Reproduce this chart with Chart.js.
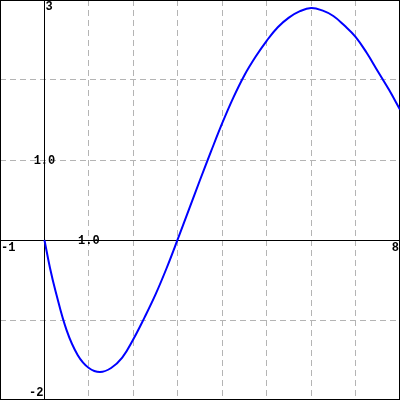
<!DOCTYPE html>
<html>
<head>
<meta charset="utf-8">
<script src="https://cdn.jsdelivr.net/npm/chart.js@4/dist/chart.umd.min.js"></script>
<style>
html,body{margin:0;padding:0;background:#fff;}
#wrap{width:400px;height:400px;position:relative;}
</style>
</head>
<body>
<div id="wrap"><canvas id="c"></canvas></div>
<script>
// Data
const xValues = [0, 0.125, 0.25, 0.5, 0.75, 1.0, 1.25, 1.5, 1.75, 2.0, 2.25, 2.5, 2.75, 3.0, 3.25, 3.5, 3.75, 4.0, 4.25, 4.5, 4.75, 5.0, 5.25, 5.5, 5.75, 6.0, 6.25, 6.5, 6.75, 7.0, 7.25, 7.5, 7.75, 8.0];
const yValues = [0, -0.35, -0.64, -1.13, -1.44, -1.60, -1.65, -1.60, -1.47, -1.24, -0.97, -0.68, -0.35, 0.01, 0.38, 0.75, 1.11, 1.46, 1.78, 2.06, 2.29, 2.49, 2.66, 2.78, 2.86, 2.90, 2.87, 2.80, 2.68, 2.54, 2.34, 2.11, 1.88, 1.63];
const xRange = [-1, 8];
const yRange = [-2, 3];
const xTickValues = [-1, 1, 8];
const xTickLabels = ['-1', '1.0', '8'];
const yTickValues = [-2, 1, 3];
const yTickLabels = ['-2', '1.0', '3'];

const points = xValues.map((x, i) => ({x: x, y: yValues[i]}));

const axesPlugin = {
  id: 'axesPlugin',
  beforeDatasetsDraw(chart) {
    const {ctx, scales: {x, y}} = chart;
    ctx.save();
    ctx.strokeStyle = '#000';
    ctx.lineWidth = 1;
    const x0 = Math.round(x.getPixelForValue(0)) + 0.5;
    const y0 = Math.round(y.getPixelForValue(0)) + 0.5;
    ctx.beginPath();
    ctx.moveTo(x0, y.top); ctx.lineTo(x0, y.bottom);
    ctx.moveTo(x.left, y0); ctx.lineTo(x.right, y0);
    ctx.stroke();
    ctx.strokeRect(0.5, 0.5, chart.width - 1, chart.height - 1);
    ctx.restore();
  },
  afterDraw(chart) {
    const {ctx, scales: {x, y}} = chart;
    ctx.save();
    ctx.fillStyle = '#000';
    ctx.font = 'bold 12px "Liberation Mono", "DejaVu Sans Mono", monospace';
    const x0 = x.getPixelForValue(0);
    const y0 = y.getPixelForValue(0);
    xTickValues.forEach((v, i) => {
      const px = x.getPixelForValue(v);
      const t = xTickLabels[i];
      if (v === xRange[0]) {
        ctx.textAlign = 'left'; ctx.textBaseline = 'top';
        ctx.fillText(t, px + 1, y0 + 2);
      } else if (v === xRange[1]) {
        ctx.textAlign = 'right'; ctx.textBaseline = 'top';
        ctx.fillText(t, px - 1, y0 + 2);
      } else {
        ctx.textAlign = 'center'; ctx.textBaseline = 'middle';
        ctx.fillText(t, px, y0 + 1);
      }
    });
    yTickValues.forEach((v, i) => {
      const py = y.getPixelForValue(v);
      const t = yTickLabels[i];
      if (v === yRange[1]) {
        ctx.textAlign = 'left'; ctx.textBaseline = 'top';
        ctx.fillText(t, x0 + 1, py + 1);
      } else if (v === yRange[0]) {
        ctx.textAlign = 'right'; ctx.textBaseline = 'bottom';
        ctx.fillText(t, x0 - 1, py - 1);
      } else {
        ctx.textAlign = 'center'; ctx.textBaseline = 'middle';
        ctx.fillText(t, x0, py + 1);
      }
    });
    ctx.restore();
  }
};

const gridOpts = {
  color: '#b4b4b4',
  lineWidth: 1,
  drawTicks: false
};

new Chart(document.getElementById('c'), {
  type: 'scatter',
  data: {
    datasets: [{
      data: points,
      showLine: true,
      borderColor: '#0000ff',
      borderWidth: 2,
      pointRadius: 0,
      fill: false,
      tension: 0.4
    }]
  },
  options: {
    responsive: true,
    maintainAspectRatio: false,
    animation: false,
    layout: {padding: 0},
    plugins: {legend: {display: false}, tooltip: {enabled: false}},
    scales: {
      x: {
        type: 'linear', min: xRange[0], max: xRange[1],
        ticks: {display: false, stepSize: 1},
        grid: gridOpts,
        border: {display: false, dash: [6, 4]}
      },
      y: {
        type: 'linear', min: yRange[0], max: yRange[1],
        ticks: {display: false, stepSize: 1},
        grid: gridOpts,
        border: {display: false, dash: [6, 4]}
      }
    }
  },
  plugins: [axesPlugin]
});
</script>
</body>
</html>
